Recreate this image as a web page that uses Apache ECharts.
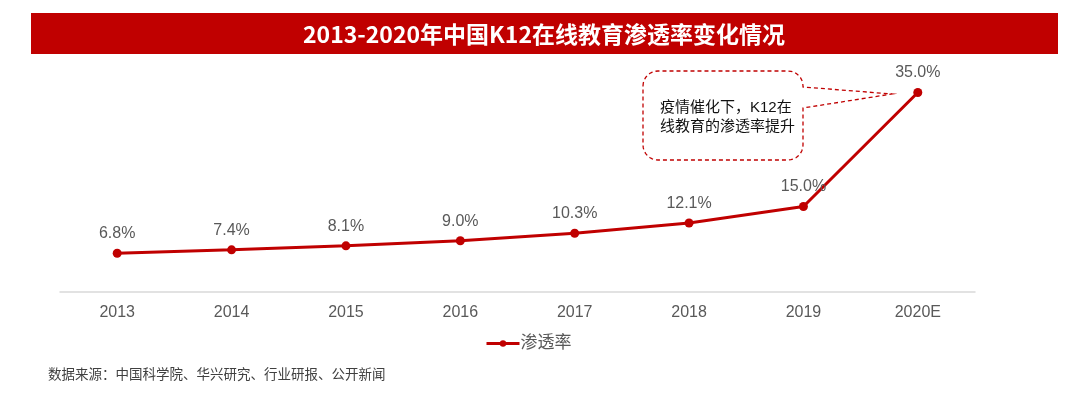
<!DOCTYPE html>
<html>
<head>
<meta charset="utf-8">
<script src="https://cdn.jsdelivr.net/npm/echarts@6/dist/echarts.min.js"></script>
<style>
html,body{margin:0;padding:0;background:#fff;}
#chart{width:1080px;height:396px;}
</style>
</head>
<body>
<div id="chart"></div>
<script>
var categories = ['2013', '2014', '2015', '2016', '2017', '2018', '2019', '2020E'];
var penetration = [6.8, 7.4, 8.1, 9.0, 10.3, 12.1, 15.0, 35.0];
var seriesName = '渗透率';
var titleText = '2013-2020年中国K12在线教育渗透率变化情况';
var calloutLines = ['疫情催化下，K12在', '线教育的渗透率提升'];
var sourceText = '数据来源：中国科学院、华兴研究、行业研报、公开新闻';

var FONT = "'Liberation Sans','Noto Sans CJK SC',sans-serif";
var RED = '#c00000';

// callout outline: rounded box with a pointer wedge on the right side
function calloutPoints(x0, y0, x1, y1, r, tipX, tipY, baseTop, baseBot) {
  var pts = [];
  function arc(cx, cy, a0, a1) {
    for (var i = 0; i <= 8; i++) {
      var a = a0 + (a1 - a0) * i / 8;
      pts.push([cx + r * Math.cos(a), cy + r * Math.sin(a)]);
    }
  }
  arc(x0 + r, y0 + r, Math.PI, 1.5 * Math.PI);
  arc(x1 - r, y0 + r, 1.5 * Math.PI, 2 * Math.PI);
  pts.push([x1, baseTop]);
  pts.push([tipX, tipY]);
  pts.push([x1, baseBot]);
  arc(x1 - r, y1 - r, 0, 0.5 * Math.PI);
  arc(x0 + r, y1 - r, 0.5 * Math.PI, Math.PI);
  return pts;
}

var chart = echarts.init(document.getElementById('chart'), null, {renderer: 'canvas'});
chart.setOption({
  animation: false,
  backgroundColor: '#fff',
  grid: {left: 60, right: 105, top: 64, bottom: 104, containLabel: false},
  xAxis: {
    type: 'category',
    data: categories,
    boundaryGap: true,
    axisLine: {show: true, lineStyle: {color: '#d9d9d9', width: 1.5}},
    axisTick: {show: false},
    axisLabel: {color: '#595959', fontSize: 16, fontFamily: FONT, margin: 13}
  },
  yAxis: {
    type: 'value',
    min: 0, max: 40,
    show: false,
    splitLine: {show: false}
  },
  legend: {
    data: [seriesName],
    left: 480,
    top: 330,
    itemWidth: 33,
    itemHeight: 8,
    lineStyle: {width: 3},
    textStyle: {color: '#595959', fontSize: 17, fontFamily: FONT, padding: [0, 0, 0, -4]}
  },
  series: [{
    name: seriesName,
    type: 'line',
    data: penetration,
    symbol: 'circle',
    symbolSize: 9,
    itemStyle: {color: RED},
    lineStyle: {color: RED, width: 3},
    label: {
      show: true,
      position: 'top',
      distance: 7,
      color: '#595959',
      fontSize: 16,
      fontFamily: FONT,
      formatter: function (p) { return p.value.toFixed(1) + '%'; }
    }
  }],
  graphic: [
    {type: 'rect', shape: {x: 31, y: 13, width: 1027, height: 41}, style: {fill: RED}, z: 10},
    {type: 'text', x: 544, y: 34, z: 11,
      style: {text: titleText, fill: '#fff', font: "bold 23px 'Noto Sans CJK SC','Liberation Sans',sans-serif", align: 'center', verticalAlign: 'middle'}},
    {type: 'polygon', z: 5,
      shape: {points: calloutPoints(643, 71, 803, 160, 15, 892, 94, 87, 108)},
      style: {fill: '#fff', stroke: RED, lineWidth: 1.3, lineDash: [4, 3]}},
    {type: 'text', x: 660, y: 108, z: 6,
      style: {text: calloutLines[0], fill: '#111', font: "15px 'Liberation Sans','Noto Sans CJK SC',sans-serif", verticalAlign: 'middle'}},
    {type: 'text', x: 660, y: 127, z: 6,
      style: {text: calloutLines[1], fill: '#111', font: "15px 'Liberation Sans','Noto Sans CJK SC',sans-serif", verticalAlign: 'middle'}},
    {type: 'text', x: 48, y: 374, z: 6,
      style: {text: sourceText, fill: '#404040', font: "13.5px 'Noto Sans CJK SC',sans-serif", verticalAlign: 'middle'}}
  ]
});
</script>
</body>
</html>
